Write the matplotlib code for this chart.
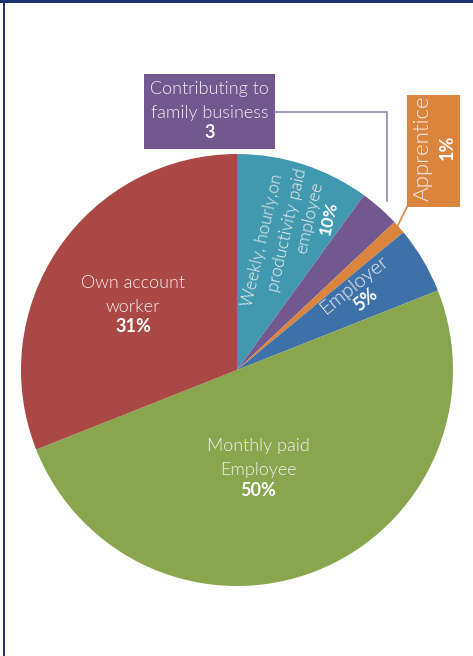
import numpy as np
import matplotlib.pyplot as plt
from matplotlib.patches import Rectangle
from matplotlib.lines import Line2D

# slices, clockwise from 12 o'clock
labels = ["Weekly, hourly,on\nproductivity paid\nemployee", "Contributing to\nfamily business",
          "Apprentice", "Employer", "Monthly paid\nEmployee", "Own account\nworker"]
values = [10, 3, 1, 5, 50, 31]
shown = ["10%", "3", "1%", "5%", "50%", "31%"]
colors = ["#4199B0", "#71588F", "#DB843D", "#3D71A8", "#89A54E", "#AA4846"]

W, H = 473, 656
fig = plt.figure(figsize=(W / 100, H / 100), dpi=100)

def fx(x):
    return x / W

def fy(y):
    return 1 - y / H

# pie: centre (237,370) px, radius 216 px
cx, cy, r = 237, 370, 216
ax = fig.add_axes([fx(cx - r), fy(cy + r), 2 * r / W, 2 * r / H])
ax.pie(values, colors=colors, startangle=90, counterclock=False, radius=1,
       wedgeprops=dict(linewidth=0))
ax.set_xlim(-1, 1)
ax.set_ylim(-1, 1)
ax.axis("off")

fam = ["Lato", "DejaVu Sans"]
tc = "#F4EEF0"

def put(px, py, s, rot=0, size=13, bold=False):
    fig.text(fx(px), fy(py), s, ha="center", va="center", rotation=rot,
             rotation_mode="anchor", color="white" if bold else tc,
             fontsize=size, family=fam, fontweight="bold" if bold else 300,
             linespacing=1.55)

# labels inside slices
put(133, 295, labels[5])
put(133, 326, shown[5], bold=True)
put(258, 458, labels[4])
put(258, 490, shown[4], bold=True)

# weekly label: lines staggered as in the original
wk = labels[0].split("\n")
put(262, 240, wk[0], rot=77, size=12.5)
put(287, 230, wk[1], rot=77, size=12.5)
put(310, 218, wk[2], rot=77, size=12.5)
put(329, 218, shown[0], rot=77, size=12.5, bold=True)

put(354, 285, labels[3], rot=39, size=14.5)
put(366, 300, shown[3], rot=39, size=13, bold=True)

# callout: contributing to family business
fig.add_artist(Line2D([fx(275), fx(387), fx(387)], [fy(112), fy(112), fy(201)],
                      color="#9386AE", lw=1.2))
fig.add_artist(Rectangle((fx(144), fy(149)), fx(131), 75 / H, color=colors[1], lw=0))
put(209.5, 101, labels[1])
put(209.5, 133, shown[1], bold=True)

# callout: apprentice
fig.add_artist(Line2D([fx(407), fx(398)], [fy(207), fy(225)], color=colors[2], lw=1.2))
fig.add_artist(Rectangle((fx(407), fy(207)), fx(53), 112 / H, color=colors[2], lw=0))
put(423, 148, labels[2], rot=90, size=16)
put(447, 147, shown[2], rot=90, bold=True)

# page frame
fig.add_artist(Rectangle((0, fy(3)), 1, 3 / H, color="#1B3570", lw=0))
fig.add_artist(Rectangle((fx(3), 0), 1.6 / W, 1, color="#1B3570", lw=0))

fig.savefig("out.png", dpi=100)
